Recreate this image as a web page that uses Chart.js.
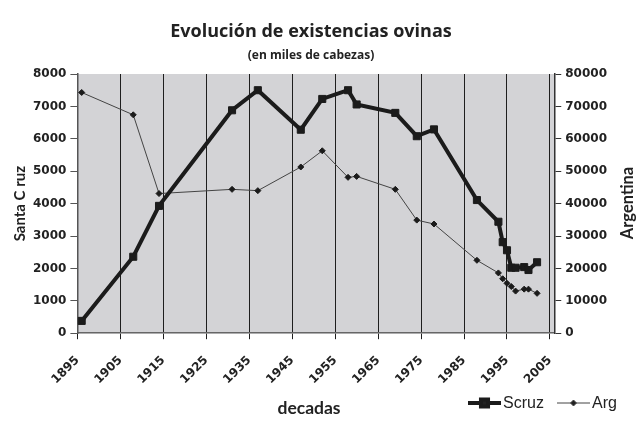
<!DOCTYPE html>
<html>
<head>
<meta charset="utf-8">
<script src="https://cdn.jsdelivr.net/npm/chart.js@4"></script>
<style>
  html, body { margin: 0; padding: 0; background: #fff; }
  #wrap { width: 644px; height: 421px; }
</style>
</head>
<body>
<div id="wrap"><canvas id="chart" width="644" height="421"></canvas></div>
<script>
//Data
const years = [1896, 1908, 1914, 1931, 1937, 1947, 1952, 1958, 1960, 1969, 1974, 1978, 1988, 1993, 1994, 1995, 1996, 1997, 1999, 2000, 2002];
const scruz = [380, 2360, 3930, 6880, 7500, 6280, 7230, 7500, 7060, 6800, 6080, 6290, 4110, 3440, 2810, 2560, 2020, 2020, 2040, 1950, 2190];
const arg = [74300, 67400, 43100, 44400, 44000, 51300, 56300, 48100, 48400, 44400, 34900, 33700, 22500, 18600, 16800, 15400, 14400, 13000, 13600, 13600, 12300];
const tickYears = [1895, 1905, 1915, 1925, 1935, 1945, 1955, 1965, 1975, 1985, 1995, 2005];

const ink = "#222";
const tickFont = { family: "DejaVu Sans", size: 12, weight: "bold" };

//Grey plot background, right title, x title and legend
const decor = {
  id: "decor",
  beforeDraw(chart) {
    const a = chart.chartArea;
    const ctx = chart.ctx;
    ctx.save();
    ctx.fillStyle = "#d3d3d6";
    ctx.fillRect(a.left, a.top, a.right - a.left, a.bottom - a.top);
    ctx.restore();
  },
  afterDraw(chart) {
    const a = chart.chartArea;
    const ctx = chart.ctx;
    ctx.save();
    //Right axis title, read bottom to top
    ctx.fillStyle = ink;
    ctx.font = "bold 16.5px Lato";
    ctx.textAlign = "center";
    ctx.textBaseline = "middle";
    ctx.translate(628, 203);
    ctx.rotate(-Math.PI / 2);
    ctx.fillText("Argentina", 0, 0);
    ctx.restore();

    ctx.save();
    ctx.fillStyle = ink;
    ctx.font = "bold 17.5px Lato";
    ctx.textAlign = "center";
    ctx.textBaseline = "middle";
    ctx.fillText("decadas", 309, 408);

    //Legend
    const ds = chart.data.datasets;
    const items = [
      { x: 468, d: ds[0] },
      { x: 557, d: ds[1] },
    ];
    const y = 403;
    ctx.font = "16px 'Liberation Sans'";
    ctx.textAlign = "left";
    items.forEach((it) => {
      ctx.strokeStyle = it.d.borderColor;
      ctx.lineWidth = it.d.borderWidth;
      ctx.beginPath();
      ctx.moveTo(it.x, y);
      ctx.lineTo(it.x + 33, y);
      ctx.stroke();
      Chart.helpers.drawPoint(
        ctx,
        {
          pointStyle: it.d.pointStyle,
          radius: it.d.pointRadius,
          borderWidth: 1,
        },
        it.x + 16.5,
        y
      );
      ctx.fillStyle = ink;
      ctx.fillText(it.d.label, it.x + 35, y + 1);
    });
    ctx.restore();
  },
};

const config = {
  type: "line",
  data: {
    datasets: [
      {
        label: "Scruz",
        data: years.map((x, i) => ({ x, y: scruz[i] })),
        yAxisID: "y",
        borderColor: "#1b1b1b",
        backgroundColor: "#1b1b1b",
        borderWidth: 4,
        pointStyle: "rect",
        pointRadius: 5,
        pointBorderWidth: 1,
        pointBorderColor: "#1b1b1b",
        pointBackgroundColor: "#1b1b1b",
        tension: 0,
      },
      {
        label: "Arg",
        data: years.map((x, i) => ({ x, y: arg[i] })),
        yAxisID: "y2",
        borderColor: "#444",
        backgroundColor: "#1b1b1b",
        borderWidth: 1,
        pointStyle: "rectRot",
        pointRadius: 3,
        pointBorderWidth: 1,
        pointBorderColor: "#1b1b1b",
        pointBackgroundColor: "#1b1b1b",
        tension: 0,
      },
    ],
  },
  options: {
    responsive: false,
    animation: false,
    events: [],
    layout: { padding: { left: 11, right: 33, top: 0, bottom: 20 } },
    plugins: {
      legend: { display: false },
      tooltip: { enabled: false },
      title: {
        display: true,
        text: "Evolución de existencias ovinas",
        color: ink,
        font: { family: "Open Sans", size: 18, weight: "bold" },
        padding: { top: 21, bottom: 6 },
      },
      subtitle: {
        display: true,
        text: "(en miles de cabezas)",
        color: ink,
        font: { family: "Open Sans", size: 12, weight: "bold" },
        padding: { top: 0, bottom: 11 },
      },
    },
    scales: {
      x: {
        type: "linear",
        min: 1895,
        max: 2006,
        afterBuildTicks: (scale) => {
          scale.ticks = tickYears.map((v) => ({ value: v }));
        },
        ticks: {
          color: ink,
          font: tickFont,
          minRotation: 45,
          maxRotation: 45,
          padding: 14,
          callback: (v) => String(v),
        },
        grid: { color: "#1e1e1e", lineWidth: 1, tickLength: 6 },
        border: { color: "#666", width: 1.5 },
      },
      y: {
        position: "left",
        min: 0,
        max: 8000,
        ticks: {
          stepSize: 1000,
          color: ink,
          font: tickFont,
          padding: 4,
          callback: (v) => String(v),
        },
        grid: { drawOnChartArea: false, color: "#555", tickLength: 7 },
        border: { color: "#555", width: 1.5 },
        title: {
          display: true,
          text: "Santa C ruz",
          color: ink,
          font: { family: "Lato", size: 15, weight: "bold" },
          padding: 0,
        },
      },
      y2: {
        position: "right",
        min: 0,
        max: 80000,
        ticks: {
          stepSize: 10000,
          color: ink,
          font: tickFont,
          padding: 4,
          callback: (v) => String(v),
        },
        grid: { drawOnChartArea: false, color: "#333", tickLength: 7 },
        border: { color: "#333", width: 1.5 },
      },
    },
  },
  plugins: [decor],
};

const myChart = new Chart(document.getElementById("chart").getContext("2d"), config);
</script>
</body>
</html>
